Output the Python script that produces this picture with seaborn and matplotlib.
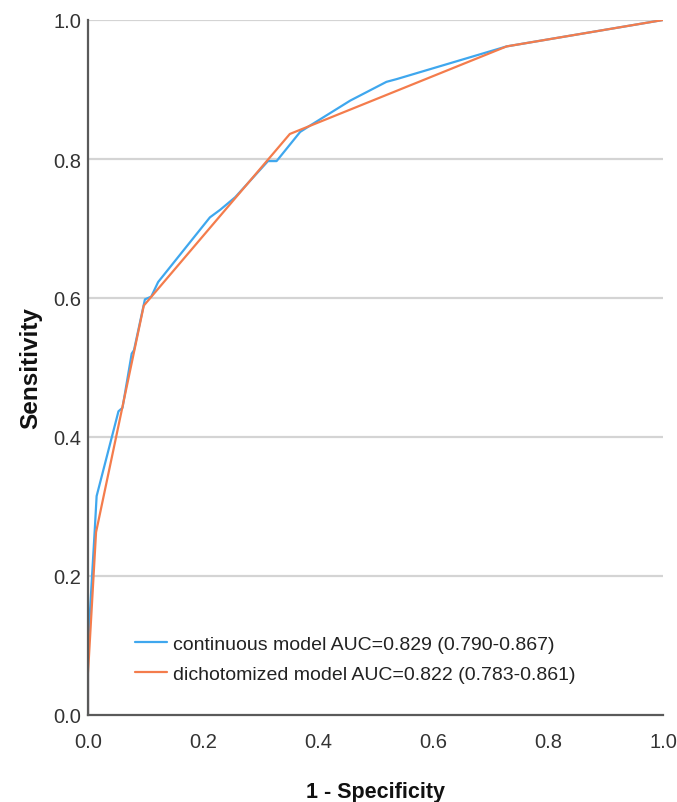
import matplotlib
matplotlib.use("Agg")
import matplotlib.pyplot as plt
import seaborn as sns
import pandas as pd

# ROC curve data
cont_fpr = [0.0, 0.0, 0.012, 0.015, 0.053, 0.060, 0.076, 0.080, 0.099, 0.110, 0.122,
            0.212, 0.230, 0.256, 0.313, 0.328, 0.369, 0.386, 0.456, 0.519, 0.537, 0.728, 1.0]
cont_tpr = [0.0, 0.10, 0.27, 0.315, 0.437, 0.442, 0.520, 0.525, 0.598, 0.602, 0.623,
            0.716, 0.727, 0.745, 0.797, 0.797, 0.839, 0.848, 0.884, 0.911, 0.915, 0.962, 1.0]
dich_fpr = [0.0, 0.0, 0.014, 0.097, 0.351, 0.728, 1.0]
dich_tpr = [0.0, 0.06, 0.263, 0.589, 0.836, 0.962, 1.0]

labels = ["continuous model AUC=0.829 (0.790-0.867)",
          "dichotomized model AUC=0.822 (0.783-0.861)"]
colors = ["#3FA7EE", "#F47C4C"]
ticks = [0.0, 0.2, 0.4, 0.6, 0.8, 1.0]
tick_labels = ["0.0", "0.2", "0.4", "0.6", "0.8", "1.0"]

df = pd.DataFrame({
    "fpr": cont_fpr + dich_fpr,
    "tpr": cont_tpr + dich_tpr,
    "model": [labels[0]] * len(cont_fpr) + [labels[1]] * len(dich_fpr),
})

sns.set_theme(style="white")
plt.rcParams["font.family"] = ["Liberation Sans", "DejaVu Sans"]

fig = plt.figure(figsize=(6.77, 8.03), dpi=100)
ax = fig.add_axes([88 / 677, 1 - 716 / 803, (663 - 88) / 677, (716 - 21) / 803])

for y in ticks[1:]:
    ax.axhline(y, color="#d4d4d4", lw=1.6, zorder=0)

sns.lineplot(data=df, x="fpr", y="tpr", hue="model", palette=colors,
             sort=False, estimator=None, units="model", lw=1.6, ax=ax, legend=False)

ax.set_xlim(0, 1)
ax.set_ylim(0, 1)
ax.set_xticks(ticks)
ax.set_xticklabels(tick_labels)
ax.set_yticks(ticks)
ax.set_yticklabels(tick_labels)
ax.tick_params(axis="both", length=0, labelsize=14.5, colors="#333333")
ax.tick_params(axis="x", pad=12)
ax.tick_params(axis="y", pad=5)

for s in ["top", "right"]:
    ax.spines[s].set_visible(False)
for s in ["left", "bottom"]:
    ax.spines[s].set_color("#5a5a5a")
    ax.spines[s].set_linewidth(1.6)

ax.set_xlabel("1 - Specificity", fontsize=15.5, fontweight="bold", color="#111111", labelpad=22)
ax.set_ylabel("Sensitivity", fontsize=17.5, fontweight="bold", color="#111111", labelpad=8)

handles = [plt.Line2D([], [], color=c, lw=1.6) for c in colors]
leg = ax.legend(handles, labels, loc="lower left", bbox_to_anchor=(0.082, 0.046),
                frameon=False, fontsize=14, handlelength=1.65, handletextpad=0.28,
                labelspacing=0.65, borderaxespad=0, borderpad=0)
for t in leg.get_texts():
    t.set_color("#222222")

fig.savefig("out.png", dpi=100)
